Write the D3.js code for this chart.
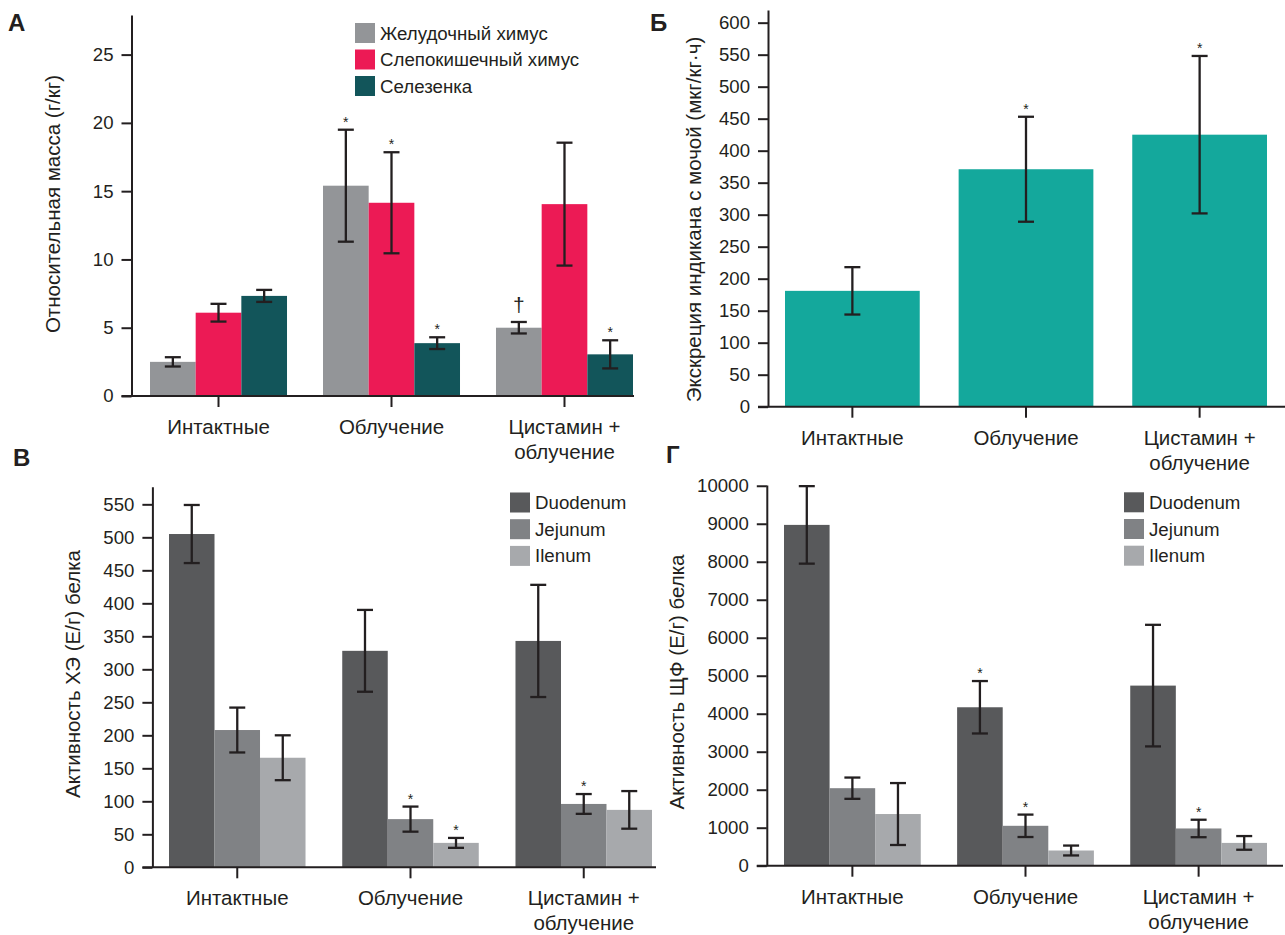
<!DOCTYPE html>
<html>
<head>
<meta charset="utf-8">
<script src="https://cdn.jsdelivr.net/npm/d3@7"></script>
<style>
  html, body { margin: 0; padding: 0; background: #fff; }
  svg { display: block; }
  text { font-family: "Liberation Sans", Arial, sans-serif; fill: #231f20; }
</style>
</head>
<body>
<svg id="chart" width="1285" height="935"></svg>
<script>
// shared categories
const groups = ["Интактные", "Облучение", "Цистамин +\nоблучение"];

// A: relative mass
const massSeries = ["Желудочный химус", "Слепокишечный химус", "Селезенка"];
const gastricMean = [2.5, 15.4, 5.0];
const gastricErr = [0.34, 4.1, 0.42];
const gastricMark = ["", "*", "†"];
const cecalMean = [6.1, 14.15, 14.05];
const cecalErr = [0.65, 3.7, 4.5];
const cecalMark = ["", "*", ""];
const spleenMean = [7.33, 3.87, 3.05];
const spleenErr = [0.44, 0.43, 1.03];
const spleenMark = ["", "*", "*"];
const massTicks = [0, 5, 10, 15, 20, 25];

// Б: urinary indican
const indicanMean = [181, 371, 425];
const indicanErr = [37, 82, 123];
const indicanMark = ["", "*", "*"];
const indicanTicks = d3.range(0, 601, 50);

// В and Г: intestinal segments
const segments = ["Duodenum", "Jejunum", "Ilenum"];
const cheDuodenum = [505, 328, 343];
const cheDuodenumErr = [44, 62, 85];
const cheJejunum = [208, 73, 96];
const cheJejunumErr = [34, 19, 15];
const cheIleum = [166, 37, 87];
const cheIleumErr = [34, 7.5, 28.5];
const cheMarks = [["", "", ""], ["", "*", "*"], ["", "*", ""]];
const cheTicks = d3.range(0, 551, 50);

const alpDuodenum = [8970, 4170, 4740];
const alpDuodenumErr = [1020, 690, 1600];
const alpJejunum = [2040, 1050, 980];
const alpJejunumErr = [280, 295, 230];
const alpIleum = [1360, 400, 600];
const alpIleumErr = [815, 130, 180];
const alpMarks = [["", "*", ""], ["", "*", "*"], ["", "", ""]];
const alpTicks = d3.range(0, 10001, 1000);

const ink = "#231f20";
const svg = d3.select("#chart");

function makeSeries(names, means, errs, marks) {
    return names.map((name, i) => ({
        name,
        values: groups.map((g, j) => ({ group: g, mean: means[i][j], err: errs[i][j], mark: marks[i][j] }))
    }));
}

function drawPanel(p) {
    const g = svg.append("g");

    const y = d3.scaleLinear().domain([0, p.yMax]).range([p.y0, p.yTop]);
    const x0 = d3.scaleBand().domain(groups).range(p.xRange).paddingInner(p.pad).paddingOuter(0);
    const x1 = d3.scaleBand().domain(p.series.map(d => d.name)).range([0, x0.bandwidth()]);

    // bars
    const sg = g.selectAll(".series")
        .data(p.series)
        .join("g")
        .attr("fill", (d, i) => p.colors[i]);

    sg.selectAll("rect")
        .data(d => d.values.map(v => ({ ...v, name: d.name })))
        .join("rect")
        .attr("x", d => x0(d.group) + x1(d.name))
        .attr("y", d => y(d.mean))
        .attr("width", x1.bandwidth())
        .attr("height", d => y(0) - y(d.mean));

    // error bars
    const eb = sg.selectAll(".err")
        .data(d => d.values.map(v => ({ ...v, name: d.name })))
        .join("g")
        .attr("transform", d => `translate(${x0(d.group) + x1(d.name) + x1.bandwidth() / 2},0)`)
        .attr("stroke", ink)
        .attr("stroke-width", 2.3)
        .attr("fill", "none");
    eb.append("line").attr("y1", d => y(d.mean + d.err)).attr("y2", d => y(d.mean - d.err));
    eb.append("line").attr("x1", -8).attr("x2", 8).attr("y1", d => y(d.mean + d.err)).attr("y2", d => y(d.mean + d.err));
    eb.append("line").attr("x1", -8).attr("x2", 8).attr("y1", d => y(d.mean - d.err)).attr("y2", d => y(d.mean - d.err));

    // significance marks
    sg.selectAll(".mark")
        .data(d => d.values.filter(v => v.mark).map(v => ({ ...v, name: d.name })))
        .join("text")
        .attr("x", d => x0(d.group) + x1(d.name) + x1.bandwidth() / 2)
        .attr("y", d => y(d.mean + d.err) - (d.mark === "*" ? 3 : 10))
        .attr("text-anchor", "middle")
        .attr("font-size", d => d.mark === "*" ? 14 : 21)
        .text(d => d.mark);

    // y axis
    const yAxis = g.append("g")
        .attr("transform", `translate(${p.axisX},0)`)
        .call(d3.axisLeft(y).tickValues(p.ticks).tickSize(10).tickSizeOuter(0).tickPadding(8).tickFormat(d3.format("d")));
    yAxis.selectAll("text").attr("font-size", 18.6).attr("fill", ink).attr("font-family", null);
    yAxis.selectAll("line, path").attr("stroke", ink).attr("stroke-width", 2);

    // x axis
    const xAxis = g.append("g")
        .attr("transform", `translate(0,${p.y0})`)
        .call(d3.axisBottom(x0).tickSize(11).tickSizeOuter(0).tickFormat(""));
    xAxis.select(".domain").remove();
    xAxis.selectAll("line").attr("stroke", ink).attr("stroke-width", 2);
    xAxis.append("line")
        .attr("x1", p.axisX - 10).attr("x2", p.xEnd)
        .attr("stroke", ink).attr("stroke-width", 2);

    const cat = g.selectAll(".cat")
        .data(groups)
        .join("text")
        .attr("x", d => x0(d) + x0.bandwidth() / 2)
        .attr("y", p.y0 + 38)
        .attr("text-anchor", "middle")
        .attr("font-size", 20.5);
    cat.selectAll("tspan")
        .data(d => d.split("\n"))
        .join("tspan")
        .attr("x", function () { return this.parentNode.getAttribute("x"); })
        .attr("dy", (d, i) => i ? 25 : 0)
        .text(d => d);

    // axis title
    g.append("text")
        .attr("transform", `translate(${p.titleX},${p.titleY}) rotate(-90)`)
        .attr("text-anchor", "middle")
        .attr("dy", "0.35em")
        .attr("font-size", 20.5)
        .text(p.title);

    // panel letter
    g.append("text")
        .attr("x", p.letterX).attr("y", p.letterY)
        .attr("font-size", 24).attr("font-weight", "bold")
        .text(p.letter);

    // legend
    if (p.legend) {
        const lg = g.selectAll(".leg")
            .data(p.series)
            .join("g")
            .attr("transform", (d, i) => `translate(${p.legend.x},${p.legend.y + i * p.legend.step})`);
        lg.append("rect").attr("width", 20).attr("height", 20).attr("fill", (d, i) => p.colors[i]);
        lg.append("text").attr("x", 25).attr("y", 10).attr("dy", "0.35em").attr("font-size", 18.7).text(d => d.name);
    }
}

drawPanel({
    letter: "А", letterX: 8, letterY: 31,
    series: makeSeries(massSeries, [gastricMean, cecalMean, spleenMean], [gastricErr, cecalErr, spleenErr], [gastricMark, cecalMark, spleenMark]),
    colors: ["#939598", "#ec1a55", "#12555a"],
    yMax: 27.9, y0: 396, yTop: 15, ticks: massTicks,
    axisX: 131.5, xRange: [150, 633], pad: 0.208, xEnd: 634,
    title: "Относительная масса (г/кг)", titleX: 53, titleY: 204,
    legend: { x: 355, y: 23, step: 26.5 }
});

drawPanel({
    letter: "Б", letterX: 650, letterY: 31,
    series: makeSeries(["Индикан"], [indicanMean], [indicanErr], [indicanMark]),
    colors: ["#14a89c"],
    yMax: 619.8, y0: 406.7, yTop: 10, ticks: indicanTicks,
    axisX: 768, xRange: [785, 1267], pad: 0.224, xEnd: 1285,
    title: "Экскреция индикана с мочой (мкг/кг·ч)", titleX: 694, titleY: 219.5
});

drawPanel({
    letter: "В", letterX: 13, letterY: 466,
    series: makeSeries(segments, [cheDuodenum, cheJejunum, cheIleum], [cheDuodenumErr, cheJejunumErr, cheIleumErr], cheMarks),
    colors: ["#58595b", "#808285", "#a7a9ac"],
    yMax: 576.7, y0: 867.3, yTop: 486.7, ticks: cheTicks,
    axisX: 152.4, xRange: [169, 652], pad: 0.212, xEnd: 656,
    title: "Активность ХЭ (Е/г) белка", titleX: 73, titleY: 674,
    legend: { x: 510, y: 492.5, step: 26.7 }
});

drawPanel({
    letter: "Г", letterX: 666, letterY: 463,
    series: makeSeries(segments, [alpDuodenum, alpJejunum, alpIleum], [alpDuodenumErr, alpJejunumErr, alpIleumErr], alpMarks),
    colors: ["#58595b", "#808285", "#a7a9ac"],
    yMax: 10020, y0: 865.7, yTop: 485, ticks: alpTicks,
    axisX: 766.8, xRange: [784, 1267], pad: 0.21, xEnd: 1283,
    title: "Активность ЩФ (Е/г) белка", titleX: 677, titleY: 682,
    legend: { x: 1124, y: 492.3, step: 26.7 }
});
</script>
</body>
</html>
